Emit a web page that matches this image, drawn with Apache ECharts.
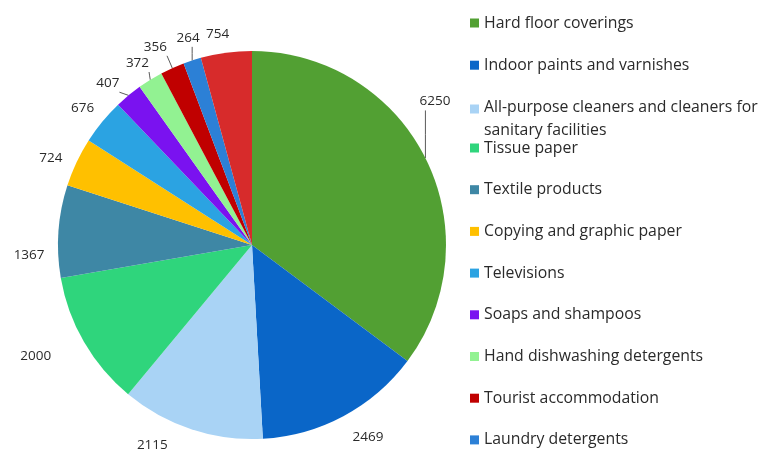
<!DOCTYPE html>
<html>
<head>
<meta charset="utf-8">
<script src="https://cdn.jsdelivr.net/npm/echarts@6/dist/echarts.min.js"></script>
<style>
  html, body { margin: 0; padding: 0; background: #ffffff; }
  #chart { width: 761px; height: 453px; }
</style>
</head>
<body>
<div id="chart"></div>
<script>
// Product groups, drawn clockwise from twelve o'clock
const categories = [
  'Hard floor coverings',
  'Indoor paints and varnishes',
  'All-purpose cleaners and cleaners for sanitary facilities',
  'Tissue paper',
  'Textile products',
  'Copying and graphic paper',
  'Televisions',
  'Soaps and shampoos',
  'Hand dishwashing detergents',
  'Tourist accommodation',
  'Laundry detergents',
  'Other product groups'
];
const values = [6250, 2469, 2115, 2000, 1367, 724, 676, 407, 372, 356, 264, 754];
const colors = [
  '#52a033', '#0a66c8', '#a9d3f5', '#2fd57c', '#3e87a5', '#ffc000',
  '#2ba3e2', '#7a12f0', '#92f292', '#c00000', '#2c80d6', '#d72b2b'
];
// Slices whose value label is tied to the pie with a leader line
const withLeader = [0, 7, 8, 9, 10];

// Hand placement of the value labels, as [dx, dy] from their default spot
const labelNudge = [
  [-22, -53], [-4, 14], [-12, 8], [-17, 10], [3, 25], [2, -1],
  [7, -8], [5, -6], [12, -10], [7, -14], [19, -15], [13, -11]
];

const FONT = 'Open Sans';
const TEXT = '#2a2a2a';
const LEGEND_SIZE = 15.8;

const chart = echarts.init(document.getElementById('chart'), null, { renderer: 'canvas' });

const pieData = categories.map((name, i) => ({
  name: name,
  value: values[i],
  itemStyle: { color: colors[i] },
  labelLine: { show: withLeader.indexOf(i) >= 0 }
}));

const legendText = { fontFamily: FONT, fontSize: LEGEND_SIZE, color: TEXT, lineHeight: 14 };
const baseLegend = {
  orient: 'vertical',
  left: 470,
  height: 420,
  padding: 0,
  icon: 'rect',
  itemWidth: 9,
  itemHeight: 9,
  selectedMode: false,
  textStyle: legendText
};

// Nearest point of a rectangle to a point
function nearestOnRect(p, r) {
  return [
    Math.min(Math.max(p[0], r.x), r.x + r.width),
    Math.min(Math.max(p[1], r.y), r.y + r.height)
  ];
}

chart.setOption({
  animation: false,
  legend: [
    Object.assign({}, baseLegend, {
      top: 15,
      itemGap: 26.2,
      data: categories.slice(0, 2)
    }),
    Object.assign({}, baseLegend, {
      top: 86,
      data: [categories[2]],
      formatter: function () {
        return '{a|All-purpose cleaners and cleaners for}\n{b|sanitary facilities}';
      },
      textStyle: Object.assign({}, legendText, {
        rich: {
          a: { fontFamily: FONT, fontSize: LEGEND_SIZE, color: TEXT, lineHeight: 42 },
          b: { fontFamily: FONT, fontSize: LEGEND_SIZE, color: TEXT, lineHeight: 4 }
        }
      })
    }),
    Object.assign({}, baseLegend, {
      top: 140,
      itemGap: 25.7,
      data: categories.slice(3, 11)
    })
  ],
  series: [{
    type: 'pie',
    center: [252, 245],
    radius: 194,
    startAngle: 90,
    clockwise: true,
    avoidLabelOverlap: false,
    data: pieData,
    label: {
      show: true,
      position: 'outside',
      formatter: '{c}',
      fontFamily: FONT,
      fontSize: 13.5,
      color: TEXT
    },
    labelLine: {
      length: 8,
      length2: 4,
      lineStyle: { color: '#595959', width: 1 }
    },
    labelLayout: function (params) {
      const n = labelNudge[params.dataIndex] || [0, 0];
      const out = { hideOverlap: false, dx: n[0], dy: n[1] };
      const pts = params.labelLinePoints;
      if (pts && withLeader.indexOf(params.dataIndex) >= 0) {
        // Leader runs from the slice's rim to the nearest edge of the moved label
        const r = params.labelRect;
        const moved = { x: r.x + n[0], y: r.y + n[1], width: r.width, height: r.height + 2 };
        const start = [pts[0][0], pts[0][1]];
        const end = nearestOnRect(start, moved);
        out.labelLinePoints = [start, [(start[0] + end[0]) / 2, (start[1] + end[1]) / 2], end];
      }
      return out;
    },
    itemStyle: { borderWidth: 0 },
    emphasis: { disabled: true }
  }]
});
</script>
</body>
</html>
